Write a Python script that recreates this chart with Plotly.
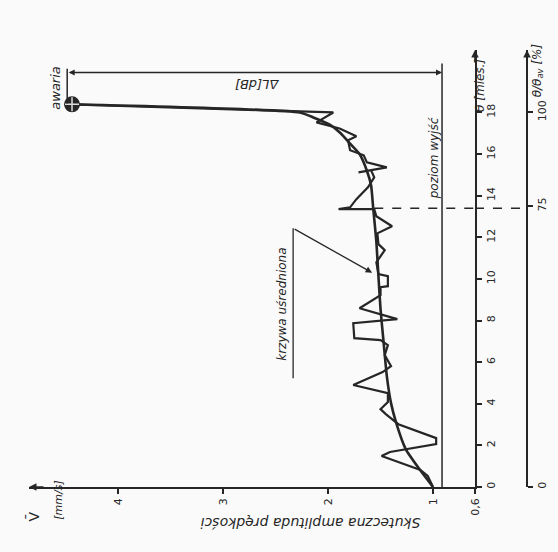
import plotly.graph_objects as go

# ---------------- data ----------------
# measured RMS vibration velocity (zig-zag curve)
theta_raw = [0.00, 0.53, 0.82, 1.49, 1.68, 2.06, 2.35, 3.02, 3.50, 3.74, 4.08, 4.51,
             4.90, 5.52, 5.81, 6.34, 6.82, 7.06, 7.15, 7.87, 8.07, 8.59, 9.22, 9.60,
             9.65, 10.13, 10.23, 10.80, 11.38, 11.67, 12.19, 12.53, 13.01, 13.35, 13.35,
             13.44, 13.83, 14.11, 14.40, 14.88, 15.22, 15.12, 15.36, 15.60, 15.94, 16.18,
             16.66, 16.85, 17.23, 17.52, 18.00, 18.05, 18.39]
v_raw = [1.00, 1.05, 1.12, 1.49, 1.41, 0.97, 0.97, 1.33, 1.45, 1.50, 1.43, 1.43,
         1.76, 1.48, 1.40, 1.46, 1.43, 1.50, 1.75, 1.76, 1.34, 1.70, 1.50, 1.50,
         1.43, 1.43, 1.52, 1.54, 1.46, 1.52, 1.53, 1.39, 1.54, 1.56, 1.90,
         1.79, 1.73, 1.68, 1.62, 1.56, 1.59, 1.71, 1.44, 1.63, 1.66, 1.79,
         1.81, 1.73, 1.89, 2.11, 1.95, 2.27, 4.44]

# averaged curve ("krzywa uśredniona")
theta_avg = [0.00, 0.86, 1.82, 3.07, 4.03, 5.33, 6.91, 8.55, 10.13, 11.80, 13.40,
             14.50, 15.20, 16.00, 16.50, 17.00, 17.40, 17.76, 18.00, 18.39]
v_avg = [1.00, 1.13, 1.26, 1.35, 1.40, 1.44, 1.47, 1.50, 1.52, 1.54, 1.57,
         1.59, 1.63, 1.70, 1.79, 1.88, 1.98, 2.14, 2.27, 4.44]

# failure point ("awaria")
theta_fail = [18.39]
v_fail = [4.44]

# levels
v_base = 0.914          # "poziom wyjść" (initial level)
v_dim_left = 4.486      # left end of ΔL dimension
theta_dim = 19.92       # height of ΔL dimension line
theta_75 = 13.4         # 75 % of mean life
theta_av = 18.0         # mean life (100 %)

# ticks
v_tickvals = [0.6, 1, 2, 3, 4]
v_ticktext = ["0,6", "1", "2", "3", "4"]
theta_tickvals = [0, 2, 4, 6, 8, 10, 12, 14, 16, 18]
pct_tickvals = [0, 75, 100]

# ---------------- layout constants ----------------
V_MIN, V_MAX = 0.6, 4.85
TH_MAX = 21.0
INK = "#262626"
BG = "#fafafa"
FONT = "DejaVu Sans"
X_DOMAIN_END = 0.8593
Y2_POS = 0.9595

fig = go.Figure()

fig.add_trace(go.Scatter(x=v_raw, y=theta_raw, mode="lines",
                         line=dict(color=INK, width=2.2), hoverinfo="skip",
                         showlegend=False))
fig.add_trace(go.Scatter(x=v_avg, y=theta_avg, mode="lines",
                         line=dict(color=INK, width=2.6, shape="spline", smoothing=0.5),
                         hoverinfo="skip", showlegend=False))
fig.add_trace(go.Scatter(x=v_fail, y=theta_fail, mode="markers",
                         marker=dict(symbol="circle", size=16, color=INK),
                         hoverinfo="skip", showlegend=False, cliponaxis=False))
fig.add_trace(go.Scatter(x=v_fail, y=theta_fail, mode="markers",
                         marker=dict(symbol="cross-thin", size=10,
                                     line=dict(color="#dddddd", width=1.5)),
                         hoverinfo="skip", showlegend=False, cliponaxis=False))
# invisible trace so the secondary axis is drawn
fig.add_trace(go.Scatter(x=[V_MIN], y=[0], yaxis="y2", mode="markers",
                         marker=dict(opacity=0), hoverinfo="skip", showlegend=False))

shapes = [
    # baseline level
    dict(type="line", xref="x", yref="y", x0=v_base, x1=v_base, y0=0, y1=20.35,
         line=dict(color=INK, width=1.5)),
    # left end bar of ΔL dimension
    dict(type="line", xref="x", yref="y", x0=v_dim_left, x1=v_dim_left,
         y0=18.43, y1=20.1, line=dict(color=INK, width=1.5)),
    # underline of "krzywa uśredniona"
    dict(type="line", xref="x", yref="y", x0=2.333, x1=2.333, y0=5.23, y1=12.43,
         line=dict(color=INK, width=1.3)),
    # dashed 75 % line (inside plot)
    dict(type="line", xref="x", yref="y", x0=1.56, x1=V_MIN, y0=theta_75, y1=theta_75,
         line=dict(color=INK, width=1.5, dash="dash")),
    # dashed 75 % line (to second axis)
    dict(type="line", xref="paper", yref="y", x0=X_DOMAIN_END, x1=Y2_POS,
         y0=theta_75, y1=theta_75, line=dict(color=INK, width=1.5, dash="dash")),
]

ann_font = dict(family=FONT, size=12, color=INK)
annotations = [
    # axis arrows
    dict(x=V_MAX, y=0, xref="x", yref="y", ax=16, ay=0, text="", showarrow=True,
         arrowhead=2, arrowwidth=1.5, arrowcolor=INK),
    dict(x=V_MIN, y=TH_MAX, xref="x", yref="y", ax=0, ay=14, text="", showarrow=True,
         arrowhead=2, arrowwidth=1.5, arrowcolor=INK),
    dict(x=Y2_POS, y=TH_MAX, xref="paper", yref="y", ax=0, ay=14, text="",
         showarrow=True, arrowhead=2, arrowwidth=1.5, arrowcolor=INK),
    # ΔL dimension
    dict(x=v_base, y=theta_dim, xref="x", yref="y", ax=v_dim_left, ay=theta_dim,
         axref="x", ayref="y", text="", showarrow=True, arrowhead=2, startarrowhead=2,
         arrowside="end+start", arrowwidth=1.5, arrowsize=0.8, arrowcolor=INK),
    dict(x=2.676, y=19.35, xref="x", yref="y", text="<i>ΔL[dB]</i>", showarrow=False,
         textangle=180, font=dict(family=FONT, size=13, color=INK)),
    # pointer to averaged curve
    dict(x=1.58, y=10.3, xref="x", yref="y", ax=2.333, ay=12.43, axref="x", ayref="y",
         text="", showarrow=True, arrowhead=2, arrowwidth=1.3, arrowsize=1,
         arrowcolor=INK),
    dict(x=2.44, y=8.8, xref="x", yref="y", text="<i>krzywa uśredniona</i>",
         showarrow=False, textangle=-90, font=ann_font),
    dict(x=0.99, y=15.8, xref="x", yref="y", text="<i>poziom wyjść</i>",
         showarrow=False, textangle=-90, font=ann_font),
    dict(x=4.6, y=19.2, xref="x", yref="y", text="<i>awaria</i>",
         showarrow=False, textangle=-90, font=dict(family=FONT, size=13, color=INK)),
    # axis titles
    dict(x=2.17, y=-0.105, xref="x", yref="paper",
         text="<i>Skuteczna amplituda prędkości</i>", showarrow=False, textangle=180,
         font=dict(family=FONT, size=14, color=INK)),
    dict(x=-0.012, y=-0.083, xref="paper", yref="paper", text="V\u0304",
         showarrow=False, textangle=-90, font=dict(family=FONT, size=14, color=INK)),
    dict(x=0.04, y=-0.08, xref="paper", yref="paper", text="<i>[mm/s]</i>",
         showarrow=False, textangle=-90, font=dict(family=FONT, size=11, color=INK)),
    dict(x=0.886, y=0.985, xref="paper", yref="paper", text="<i>θ [mies.]</i>",
         showarrow=False, textangle=-90, font=dict(family=FONT, size=12, color=INK)),
    dict(x=1.0, y=1.02, xref="paper", yref="paper",
         text="<i>θ/θ<sub>av</sub> [%]</i>",
         showarrow=False, textangle=-90, font=dict(family=FONT, size=12, color=INK)),
]

axis_common = dict(showgrid=False, zeroline=False, showline=True, linecolor=INK,
                   linewidth=1.5, ticks="outside", ticklen=5, tickwidth=1.5,
                   tickcolor=INK, tickfont=dict(family=FONT, size=11, color=INK),
                   fixedrange=True, automargin=False)

fig.update_layout(
    width=558, height=552,
    margin=dict(l=29, r=10, t=50, b=65, autoexpand=False),
    paper_bgcolor=BG, plot_bgcolor=BG,
    showlegend=False,
    xaxis=dict(range=[V_MAX, V_MIN], domain=[0, X_DOMAIN_END],
               tickvals=v_tickvals, ticktext=v_ticktext, tickangle=-90,
               **axis_common),
    yaxis=dict(range=[0, TH_MAX], side="right", anchor="x",
               tickvals=theta_tickvals, tickangle=-90, **axis_common),
    yaxis2=dict(range=[0, 100 * TH_MAX / theta_av], overlaying="y", anchor="free",
                position=Y2_POS, side="right", tickvals=pct_tickvals, tickangle=-90,
                **axis_common),
    shapes=shapes,
    annotations=annotations,
)

fig.write_html("out.html", config={"displayModeBar": False},
               post_script="document.body.style.margin='0';")
